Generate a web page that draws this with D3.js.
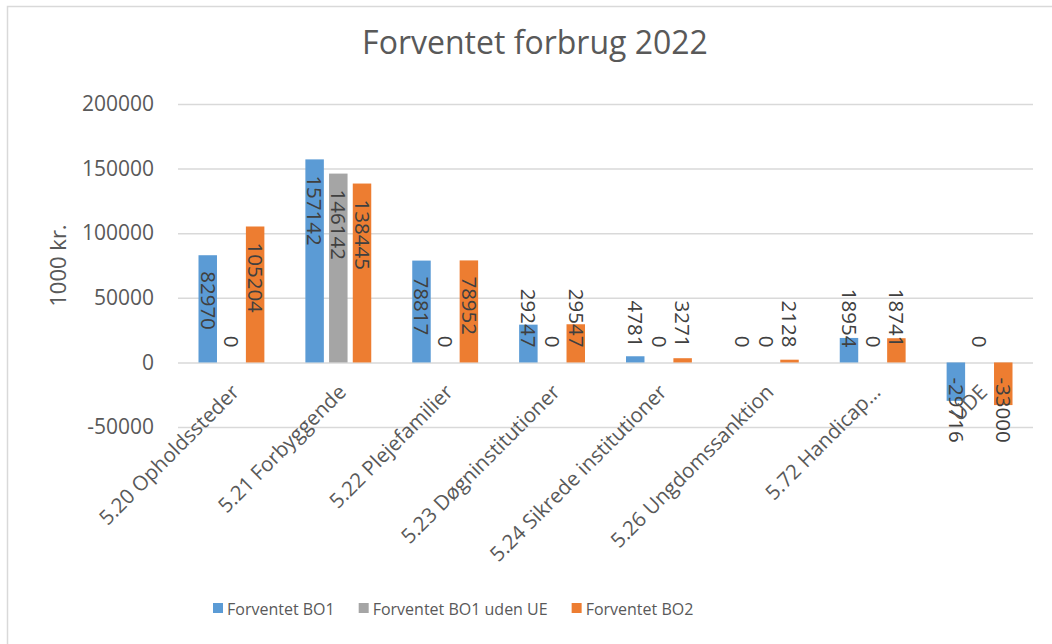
<!DOCTYPE html>
<html>
<head>
<meta charset="utf-8">
<script src="https://cdn.jsdelivr.net/npm/d3@7"></script>
<style>
  body { margin: 0; background: #fff; }
  svg { display: block; font-family: "Open Sans", sans-serif; }
</style>
</head>
<body>
<div id="chart"></div>
<script>
// data
const categories = ['5.20 Opholdssteder', '5.21 Forbyggende', '5.22 Plejefamilier',
	'5.23 Døgninstitutioner', '5.24 Sikrede institutioner', '5.26 Ungdomssanktion',
	'5.72 Handicap…', 'UDE'];
const seriesNames = ['Forventet BO1', 'Forventet BO1 uden UE', 'Forventet BO2'];
const bo1 = [82970, 157142, 78817, 29247, 4781, 0, 18954, -29716];
const bo1UdenUE = [0, 146142, 0, 0, 0, 0, 0, 0];
const bo2 = [105204, 138445, 78952, 29547, 3271, 2128, 18741, -33000];
const yTicks = [-50000, 0, 50000, 100000, 150000, 200000];
const colors = ['#5b9bd5', '#a5a5a5', '#ed7d31'];

const width = 1052;
const height = 644;
const margin = {t:104, r:19, b:217, l:178};

const svg = d3.select('#chart').append('svg')
	.attr('width', width)
	.attr('height', height);

// chart border (only top/left visible in the crop)
svg.append('rect')
	.attr('x', 7.5).attr('y', 6.5)
	.attr('width', 1100).attr('height', 700)
	.attr('fill', 'none')
	.attr('stroke', '#d9d9d9')
	.attr('stroke-width', 1.5);

const scaleY = d3.scaleLinear()
	.domain([-50000, 200000])
	.range([height - margin.b + 0.05, margin.t]);

const scaleX = d3.scaleBand()
	.domain(categories)
	.range([margin.l, width - margin.r])
	.padding(0);

const scaleS = d3.scaleBand()
	.domain(seriesNames)
	.range([0, scaleX.bandwidth()])
	.paddingInner(0.22)
	.paddingOuter(0.865);

const zeroY = scaleY(0);

// gridlines + y labels
const axisY = d3.axisLeft(scaleY)
	.tickValues(yTicks)
	.tickSize(-(width - margin.l - margin.r))
	.tickPadding(24)
	.tickFormat(d => d);

svg.append('g')
	.attr('class', 'axis-y')
	.attr('transform', `translate(${margin.l},0)`)
	.call(axisY)
	.call(g => g.select('.domain').remove())
	.call(g => g.selectAll('.tick line').attr('stroke', '#d9d9d9').attr('stroke-width', 1.5))
	.call(g => g.selectAll('.tick text')
		.attr('fill', '#595959')
		.style('font-size', '21px')
		.style('font-family', '"Open Sans", sans-serif'));

// bars
const rows = categories.map((c, i) => ({
	cat: c,
	vals: [bo1[i], bo1UdenUE[i], bo2[i]].map((v, j) => ({series: seriesNames[j], value: v, idx: j}))
}));

const groups = svg.append('g').attr('class', 'bars')
	.selectAll('g')
	.data(rows)
	.enter().append('g')
	.attr('transform', d => `translate(${scaleX(d.cat)},0)`);

groups.selectAll('rect')
	.data(d => d.vals)
	.enter().append('rect')
	.attr('x', d => scaleS(d.series))
	.attr('width', scaleS.bandwidth())
	.attr('y', d => Math.min(scaleY(d.value), zeroY))
	.attr('height', d => Math.abs(scaleY(d.value) - zeroY))
	.attr('fill', d => colors[d.idx]);

// category labels, hung on the zero axis
svg.append('g').attr('class', 'cat-labels')
	.selectAll('text')
	.data(categories)
	.enter().append('text')
	.attr('transform', d => `translate(${scaleX(d) + scaleX.bandwidth() / 2 + 9},${zeroY + 31}) rotate(-45)`)
	.attr('text-anchor', 'end')
	.attr('fill', '#595959')
	.style('font-size', '20.5px')
	.text(d => d);

// data labels, rotated, inside end (pushed out when they don't fit)
const labels = groups.selectAll('text.val')
	.data(d => d.vals)
	.enter().append('text')
	.attr('class', 'val')
	.attr('fill', '#404040')
	.style('font-size', '20.5px')
	.attr('dy', '0.35em')
	.text(d => d.value);

labels.each(function(d) {
	const len = this.getComputedTextLength();
	const cx = scaleS(d.series) + scaleS.bandwidth() / 2;
	let start;
	if (d.value >= 0) {
		start = Math.min(scaleY(d.value) + 16, zeroY - 15 - len);
	} else {
		start = Math.max(scaleY(d.value) - 16 - len, zeroY + 15);
	}
	d3.select(this).attr('transform', `translate(${cx},${start}) rotate(90)`);
});

// title
svg.append('text')
	.attr('x', 535)
	.attr('y', 54)
	.attr('text-anchor', 'middle')
	.attr('fill', '#595959')
	.style('font-size', '32px')
	.text('Forventet forbrug 2022');

// y axis title
svg.append('text')
	.attr('transform', `translate(58,${(scaleY(200000) + scaleY(-50000)) / 2}) rotate(-90)`)
	.attr('text-anchor', 'middle')
	.attr('dy', '0.35em')
	.attr('fill', '#595959')
	.style('font-size', '22px')
	.text('1000 kr.');

// legend
const legend = svg.append('g').attr('class', 'legend');
let lx = 213;
seriesNames.forEach((s, i) => {
	legend.append('rect')
		.attr('x', lx).attr('y', 603)
		.attr('width', 10).attr('height', 10)
		.attr('fill', colors[i]);
	const t = legend.append('text')
		.attr('x', lx + 14)
		.attr('y', 615)
		.attr('fill', '#595959')
		.style('font-size', '16px')
		.text(s);
	lx += 14 + t.node().getComputedTextLength() + 24;
});
</script>
</body>
</html>
